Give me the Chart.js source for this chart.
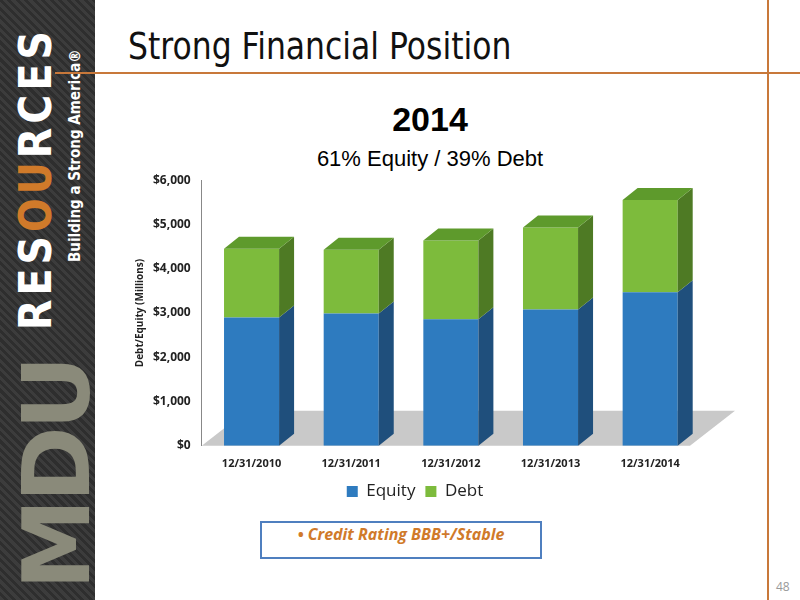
<!DOCTYPE html>
<html><head><meta charset="utf-8">
<script src="https://cdn.jsdelivr.net/npm/chart.js@4"></script>
<style>
body{margin:0;width:800px;height:600px;position:relative;background:#fff;font-family:"Open Sans",sans-serif;overflow:hidden}
#side{position:absolute;left:0;top:0;width:95px;height:600px;background:repeating-linear-gradient(45deg,#3c3c3c 0 3px,#2e2e2e 3px 6px)}
.vt{position:absolute;transform:rotate(-90deg);transform-origin:left top;white-space:nowrap;color:#fff}
#title{position:absolute;left:128px;top:24px;font-family:"Liberation Sans Narrow","DejaVu Sans Condensed",sans-serif;font-size:38px;color:#111;transform:scaleX(0.92);transform-origin:left}
#hl{position:absolute;left:55px;top:72px;width:745px;height:2px;background:#c8783a}
#vl{position:absolute;left:767px;top:0;width:2px;height:600px;background:#c8783a}
#h1{position:absolute;left:120px;width:620px;text-align:center;top:100px;font:bold 34px "Liberation Sans",Arial,sans-serif}
#h2{position:absolute;left:120px;width:620px;text-align:center;top:146px;font:22px "Liberation Sans",Arial,sans-serif}
#box{position:absolute;left:260px;top:521px;width:278px;height:34px;border:2px solid #4f7fbf;text-align:center;line-height:34px;color:#d07a2a;font:italic bold 16px "Open Sans",sans-serif}
#pg{position:absolute;left:776px;top:578px;color:#999;font-size:12px}
#wrap{position:absolute;left:130px;top:170px;width:620px;height:340px}
</style></head><body>
<div id="side">
<div class="vt" style="left:10px;top:330px;font:bold 44px 'DejaVu Sans Condensed',sans-serif;letter-spacing:4px">RES<span style="color:#d07a2a">OU</span>RCES</div>
<div class="vt" style="left:66px;top:262px;font:bold 15px 'DejaVu Sans Condensed',sans-serif">Building a Strong America®</div>
<div class="vt" style="left:4px;top:590px;font:bold 92px 'DejaVu Sans',sans-serif;color:#8a8a7a;letter-spacing:-4px">MDU</div>
</div>
<div id="title">Strong Financial Position</div>
<div id="hl"></div><div id="vl"></div>
<div id="h1">2014</div>
<div id="h2">61% Equity / 39% Debt</div>
<div id="wrap"><canvas id="c"></canvas></div>
<div id="box">• Credit Rating BBB+/Stable</div>
<div id="pg">48</div>
<script>
var categories = ['12/31/2010', '12/31/2011', '12/31/2012', '12/31/2013', '12/31/2014'];
var equity = [2900, 2990, 2860, 3080, 3470];
var debt = [1550, 1440, 1780, 1850, 2080];

var DX = 15, DY = 12;
function shade(ctx, pts, col) {
  ctx.beginPath(); ctx.moveTo(pts[0][0], pts[0][1]);
  for (var i = 1; i < pts.length; i++) ctx.lineTo(pts[i][0], pts[i][1]);
  ctx.closePath(); ctx.fillStyle = col; ctx.fill();
}
var depth = {
  id: 'depth',
  beforeDatasetsDraw: function (chart) {
    var ctx = chart.ctx, a = chart.chartArea, b = chart.scales.y.getPixelForValue(0);
    shade(ctx, [[a.left, b], [a.right - 10, b], [a.right + 35, b - 35], [a.left + 45, b - 35]], '#c9c9c9');
  },
  afterDatasetsDraw: function (chart) {
    var ctx = chart.ctx;
    var sides = ['#1f4f7c', '#4e7a24'], tops = ['#2a6aa5', '#5e9a2c'];
    chart.data.datasets.forEach(function (ds, di) {
      chart.getDatasetMeta(di).data.forEach(function (bar) {
        var r = bar.x + bar.width / 2, l = bar.x - bar.width / 2;
        shade(ctx, [[r, bar.y], [r + DX, bar.y - DY], [r + DX, bar.base - DY], [r, bar.base]], sides[di]);
        if (di === 1) shade(ctx, [[l, bar.y], [l + DX, bar.y - DY], [r + DX, bar.y - DY], [r, bar.y]], tops[di]);
      });
    });
  }
};
new Chart(document.getElementById('c'), {
  type: 'bar',
  data: {
    labels: categories,
    datasets: [
      { label: 'Equity', data: equity, backgroundColor: '#2e7bbf', categoryPercentage: 0.85, barPercentage: 0.65 },
      { label: 'Debt', data: debt, backgroundColor: '#7dbb3c', categoryPercentage: 0.85, barPercentage: 0.65 }
    ]
  },
  options: {
    responsive: true, maintainAspectRatio: false, animation: false,
    layout: { padding: { right: 50, top: 8 } },
    plugins: {
      legend: { position: 'bottom', labels: { boxWidth: 11, boxHeight: 11, font: { size: 17, family: 'Open Sans' }, color: '#222' } },
      tooltip: { enabled: false }
    },
    scales: {
      x: { stacked: true, grid: { display: false }, border: { display: false },
           ticks: { font: { size: 11, weight: 'bold', family: 'Open Sans' }, color: '#222' } },
      y: { stacked: true, min: 0, max: 6000, grid: { display: false },
           border: { color: '#888' },
           ticks: { stepSize: 1000, font: { size: 12, weight: 'bold', family: 'Open Sans' }, color: '#222',
                    callback: function (v) { return '$' + v.toLocaleString('en-US'); } },
           title: { display: true, text: 'Debt/Equity (Millions)', font: { size: 10, weight: 'bold', family: 'Open Sans' }, color: '#222' } }
    }
  },
  plugins: [depth]
});
</script>
</body></html>
